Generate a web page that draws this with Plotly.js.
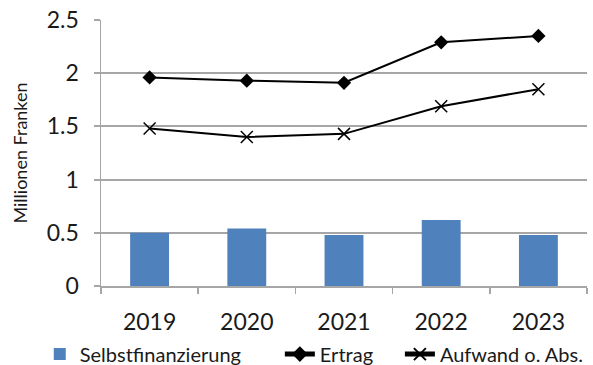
<!DOCTYPE html>
<html>
<head>
<meta charset="utf-8">
<script src="https://cdn.plot.ly/plotly-3.0.1.min.js"></script>
<style>html,body{margin:0;padding:0;background:#fff;}#chart{width:593px;height:365px;}</style>
</head>
<body>
<div id="chart"></div>
<script>
var years = ['2019', '2020', '2021', '2022', '2023'];
var selbstfinanzierung = [0.50, 0.54, 0.48, 0.62, 0.48];
var ertrag = [1.96, 1.93, 1.91, 2.29, 2.35];
var aufwand = [1.48, 1.40, 1.43, 1.69, 1.85];
var yTicks = [0, 0.5, 1, 1.5, 2, 2.5];
var yTickLabels = ['0', '0.5', '1', '1.5', '2', '2.5'];

var traces = [
  {type: 'bar', name: 'Selbstfinanzierung', x: years, y: selbstfinanzierung, legend: 'legend',
   width: 0.4, marker: {color: '#4f81bd'}},
  {type: 'scatter', mode: 'lines+markers', name: 'Ertrag', x: years, y: ertrag, legend: 'legend2',
   line: {color: '#000', width: 2}, marker: {symbol: 'diamond', size: 11, color: '#000'}},
  {type: 'scatter', mode: 'lines+markers', name: 'Aufwand o. Abs.', x: years, y: aufwand, legend: 'legend3',
   line: {color: '#000', width: 2}, marker: {symbol: 'x-thin', size: 12, line: {color: '#000', width: 1.5}}}
];

function leg(xpos) {
  return {orientation: 'h', x: xpos, xanchor: 'left', y: -0.256, yanchor: 'middle',
          font: {size: 20, color: '#1a1a1a'}, bgcolor: 'rgba(0,0,0,0)', itemsizing: 'constant'};
}

var layout = {
  width: 593, height: 365,
  margin: {l: 101, r: 6, t: 20, b: 79, autoexpand: false},
  paper_bgcolor: '#fff', plot_bgcolor: '#fff',
  font: {family: 'Lato, "Open Sans", sans-serif', color: '#1a1a1a'},
  showlegend: true,
  legend: leg(-0.126),
  legend2: leg(0.368),
  legend3: leg(0.615),
  xaxis: {type: 'category', showgrid: false, showline: true, linecolor: '#a6a6a6', linewidth: 2,
          ticks: 'outside', tickson: 'boundaries', ticklen: 6, tickcolor: '#a6a6a6', tickwidth: 1.5,
          ticklabelstandoff: 14,
          tickfont: {size: 23, color: '#1a1a1a'}},
  yaxis: {range: [0, 2.5], tickvals: yTicks, ticktext: yTickLabels, showgrid: true,
          gridcolor: '#a6a6a6', gridwidth: 2, zeroline: false, showline: true, linecolor: '#a6a6a6', linewidth: 1.5,
          ticks: 'outside', ticklen: 6, tickcolor: '#a6a6a6', tickwidth: 2,
          ticklabelstandoff: 10,
          tickfont: {size: 23, color: '#1a1a1a'},
          title: {text: 'Millionen Franken', font: {size: 18, color: '#1a1a1a'}, standoff: 14}}
};

Plotly.newPlot('chart', traces, layout, {displayModeBar: false, staticPlot: true});
</script>
</body>
</html>
